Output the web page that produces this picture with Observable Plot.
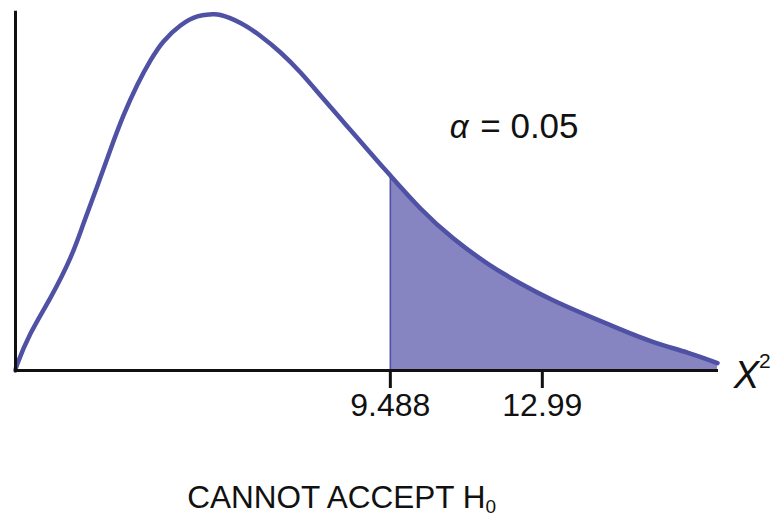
<!DOCTYPE html>
<html><head><meta charset="utf-8">
<script src="https://cdn.jsdelivr.net/npm/d3@7"></script>
<script src="https://cdn.jsdelivr.net/npm/@observablehq/plot@0.6"></script>
<style>body{margin:0;background:#fff}svg{display:block}</style>
</head><body><div id="chart"></div>
<script>
// Curve of the chi-square density
const curveX = [0.85, 0.896, 1.196, 1.657, 2.117, 2.417, 2.740, 3.039, 3.339, 3.661, 3.961, 4.261, 4.652, 5.044, 5.344, 5.574, 6.035, 6.496, 6.957, 7.418, 7.879, 8.339, 8.800, 9.261, 9.488, 10.183, 10.943, 11.727, 12.487, 13.248, 14.031, 14.792, 15.552, 16.336, 17.027];
const curveY = [0.000, 0.0039, 0.0204, 0.0403, 0.0624, 0.0812, 0.1022, 0.1221, 0.1409, 0.1580, 0.1713, 0.1818, 0.1906, 0.1956, 0.1967, 0.1964, 0.1920, 0.1848, 0.1757, 0.1646, 0.1519, 0.1392, 0.1265, 0.1138, 0.1077, 0.0895, 0.0729, 0.0591, 0.0481, 0.0387, 0.0304, 0.0227, 0.0157, 0.0099, 0.0041];
const criticalValue = 9.488;
const tickValues = [9.488, 12.99];
const tickLabels = ["9.488", "12.99"];
const alphaSymbol = "α";
const alphaLabel = "= 0.05";
const axisSymbol = "Χ";
const axisSup = "2";
const bottomLabel = "CANNOT ACCEPT H";
const bottomSub = "0";

const curve = curveX.map((x, i) => ({x, y: curveY[i]}));
const tail = curve.filter(d => d.x >= criticalValue);
const critY = curve.find(d => d.x === criticalValue).y;

const xMin = 0.85, xMax = 17.05;
const lineColor = "#4e51a4", fillColor = "#8784c2";

const chart = Plot.plot({
  width: 773, height: 517,
  marginLeft: 15, marginRight: 55, marginTop: 8, marginBottom: 147,
  style: {fontFamily: "'Liberation Sans', Arial, sans-serif", background: "#fff", color: "#111"},
  x: {domain: [xMin, xMax], axis: null},
  y: {domain: [0, 0.2], axis: null},
  marks: [
    Plot.areaY(tail, {x: "x", y: "y", fill: fillColor, curve: "natural"}),
    Plot.ruleX([criticalValue], {y1: 0, y2: critY, stroke: lineColor, strokeWidth: 1.5}),
    Plot.line(curve, {x: "x", y: "y", stroke: lineColor, strokeWidth: 4.5, curve: "natural", strokeLinecap: "round"}),
    Plot.ruleY([0], {x1: xMin - 0.02, x2: xMax, stroke: "#111", strokeWidth: 3}),
    Plot.ruleX([xMin], {y1: -0.001, y2: 0.1985, stroke: "#111", strokeWidth: 3}),
    Plot.axisX({ticks: tickValues, tickFormat: (d, i) => tickLabels[i], tickSize: 18, tickPadding: 5, strokeWidth: 3, fontSize: 32, label: null, stroke: "#111", fill: "#111"}),
    Plot.text([alphaSymbol], {x: [11.29], y: [0.1283], text: d => d, textAnchor: "end", lineAnchor: "bottom", fontSize: 33, fontStyle: "italic", fill: "#111"}),
    Plot.text([alphaLabel], {x: [11.56], y: [0.1283], text: d => d, textAnchor: "start", lineAnchor: "bottom", fontSize: 35, fill: "#111"}),
    Plot.text([axisSymbol], {x: [17.40], y: [-0.0094], text: d => d, textAnchor: "start", lineAnchor: "bottom", fontSize: 38, fontStyle: "italic", fill: "#111"}),
    Plot.text([bottomLabel], {x: [4.81], y: [-0.0757], text: d => d, textAnchor: "start", lineAnchor: "bottom", fontSize: 31.5, fill: "#111"})
  ]
});
document.getElementById("chart").appendChild(chart);

// superscript / subscript parts as tspans of the same text
d3.select(chart).selectAll("text").each(function() {
  const t = this.textContent;
  if (t === axisSymbol) {
    d3.select(this).append("tspan").attr("dx", 0).attr("dy", -20).attr("font-size", 21).attr("font-style", "normal").text(axisSup);
  } else if (t === bottomLabel) {
    d3.select(this).append("tspan").attr("dy", 5).attr("font-size", 19).text(bottomSub);
  }
});
</script>
</body></html>
